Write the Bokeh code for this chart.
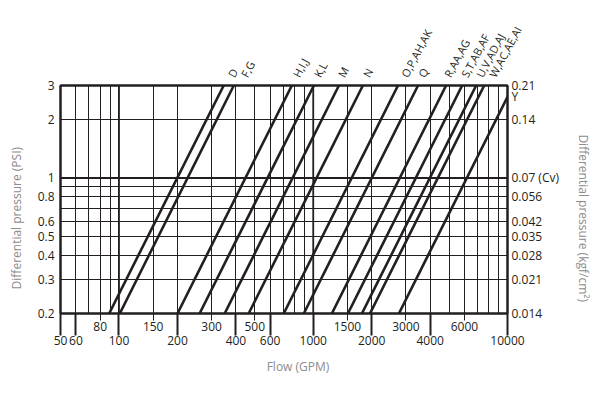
import math
from bokeh.plotting import figure
from bokeh.models import FixedTicker, LogAxis, Span, NumeralTickFormatter
from bokeh.embed import file_html
from bokeh.resources import INLINE

# ---- data ----
line_labels = ["D", "F,G", "H,I,J", "K,L", "M", "N", "O,P,AH,AK", "Q",
               "R,AA,AG", "S,T,AB,AF", "U,V,AD,AJ", "W,AC,AE,AI", "Y"]
# flow (GPM) where each line crosses 0.2 PSI and 3 PSI
flow_at_low = [89, 101, 200, 260, 350, 465, 705, 894, 1247, 1508, 1781, 1959, 2761]
flow_at_high = [346, 390, 776, 1008, 1356, 1801, 2731, 3464, 4829, 5842, 6897, 7586, 10694]
# flow (GPM) at which each rotated label sits above the chart
label_flow = [376, 439, 813, 1043, 1388, 1867, 2931, 3586, 4885, 5973, 7138, 8328]
p_low = 0.2
p_high = 3.0
y_label_psi = 2.63  # where the "Y" line leaves the right edge

psi_ticks = [0.2, 0.3, 0.4, 0.5, 0.6, 0.8, 1, 2, 3]
kgf_labels = ["0.014", "0.021", "0.028", "0.035", "0.042", "0.056", "0.07 (Cv)", "0.14", "0.21"]
psi_grid = [0.2, 0.3, 0.4, 0.5, 0.6, 0.7, 0.8, 0.9, 1, 2, 3]

flow_ticks_lower = [50, 60, 100, 200, 400, 600, 1000, 2000, 4000, 10000]
flow_ticks_upper = [80, 150, 300, 500, 1500, 3000, 6000]
flow_grid = [50, 60, 70, 80, 90, 100, 150, 200, 300, 400, 500, 600, 700, 800, 900,
             1000, 1500, 2000, 3000, 4000, 5000, 6000, 7000, 8000, 9000, 10000]

INK = "#231f20"
GREY = "#8c8c8c"
FONT = "Open Sans"
FS = "12px"
NB = "\u00a0"

p = figure(width=600, height=400, x_axis_type="log", y_axis_type="log",
           x_range=(50, 10000), y_range=(0.2, 3),
           output_backend="svg", toolbar_location=None,
           min_border_left=60, min_border_right=93, min_border_top=85, min_border_bottom=87)
p.background_fill_color = "white"
p.border_fill_color = "white"
p.outline_line_color = INK
p.outline_line_width = 2


def plain(ax, size=FS):
    ax.major_label_text_font = FONT
    ax.major_label_text_font_size = size
    ax.major_label_text_color = INK
    ax.axis_label_text_font = FONT
    ax.axis_label_text_font_size = FS
    ax.axis_label_text_font_style = "normal"
    ax.axis_label_text_color = GREY


# grid
p.xgrid.ticker = FixedTicker(ticks=flow_grid)
p.ygrid.ticker = FixedTicker(ticks=psi_grid)
for g in (p.xgrid, p.ygrid):
    g.grid_line_color = INK
    g.grid_line_width = 1
    g.grid_line_alpha = 1
for v in (100, 1000):
    p.add_layout(Span(location=v, dimension="height", line_color=INK, line_width=1.8))
p.add_layout(Span(location=1, dimension="width", line_color=INK, line_width=1.8))

# bottom axis A: upper-row labels, short ticks; long ticks for lower-row values
xa = p.xaxis[0]
xa.ticker = FixedTicker(ticks=flow_ticks_upper, minor_ticks=flow_ticks_lower)
xa.formatter = NumeralTickFormatter(format="0")
xa.axis_line_color = INK
xa.axis_line_width = 2
xa.major_tick_out = 7
xa.major_tick_in = 0
xa.major_tick_line_color = INK
xa.major_tick_line_width = 1
xa.minor_tick_out = 22
xa.minor_tick_in = 0
xa.minor_tick_line_color = INK
xa.minor_tick_line_width = 2
xa.major_label_standoff = -14
plain(xa)

# bottom axis B: lower-row labels
xb = LogAxis(ticker=FixedTicker(ticks=flow_ticks_lower), formatter=NumeralTickFormatter(format="0"),
             axis_label=NB * 9 + "Flow (GPM)")
xb.axis_line_color = None
xb.major_tick_line_color = None
xb.minor_tick_line_color = None
xb.major_tick_out = 0
xb.major_tick_in = 0
xb.minor_tick_out = 0
xb.minor_tick_in = 0
xb.major_label_standoff = 2
xb.axis_label_standoff = 10
plain(xb)
p.add_layout(xb, "below")

# left axis
ya = p.yaxis[0]
ya.ticker = FixedTicker(ticks=psi_ticks)
ya.formatter = NumeralTickFormatter(format="0.[0]")
ya.axis_line_color = INK
ya.axis_line_width = 2
ya.major_tick_out = 0
ya.major_tick_in = 0
ya.minor_tick_out = 0
ya.minor_tick_in = 0
ya.major_label_standoff = 6
ya.axis_label = "Differential pressure (PSI)" + NB * 12
ya.axis_label_standoff = 10
plain(ya)

# right axis (kgf/cm2 labels + the "Y" line label)
r_ticks = psi_ticks + [y_label_psi]
r_labels = kgf_labels + [line_labels[-1]]
ra = LogAxis(ticker=FixedTicker(ticks=r_ticks),
             major_label_overrides={t: s for t, s in zip(r_ticks, r_labels)},
             axis_label=NB * 12 + "Differential pressure (kgf/cm²)")
ra.axis_line_color = INK
ra.axis_line_width = 2
ra.major_tick_out = 0
ra.major_tick_in = 0
ra.minor_tick_out = 0
ra.minor_tick_in = 0
ra.major_label_standoff = 4
ra.axis_label_standoff = 13
plain(ra)
p.add_layout(ra, "right")

# top axis carrying the rotated line labels
n = len(label_flow)
ta = LogAxis(ticker=FixedTicker(ticks=label_flow),
             major_label_overrides={x: s for x, s in zip(label_flow, line_labels[:n])},
             major_label_orientation=math.radians(62))
ta.axis_line_color = INK
ta.axis_line_width = 2
ta.major_tick_line_color = None
ta.minor_tick_line_color = None
ta.major_tick_out = 0
ta.major_tick_in = 0
ta.minor_tick_out = 0
ta.minor_tick_in = 0
ta.major_label_standoff = 9
plain(ta, "11px")
p.add_layout(ta, "above")

# diagonal lines
p.segment(x0=flow_at_low, y0=[p_low] * len(flow_at_low),
          x1=flow_at_high, y1=[p_high] * len(flow_at_high),
          line_color=INK, line_width=2.6)

open("out.html", "w").write(file_html(p, INLINE))
